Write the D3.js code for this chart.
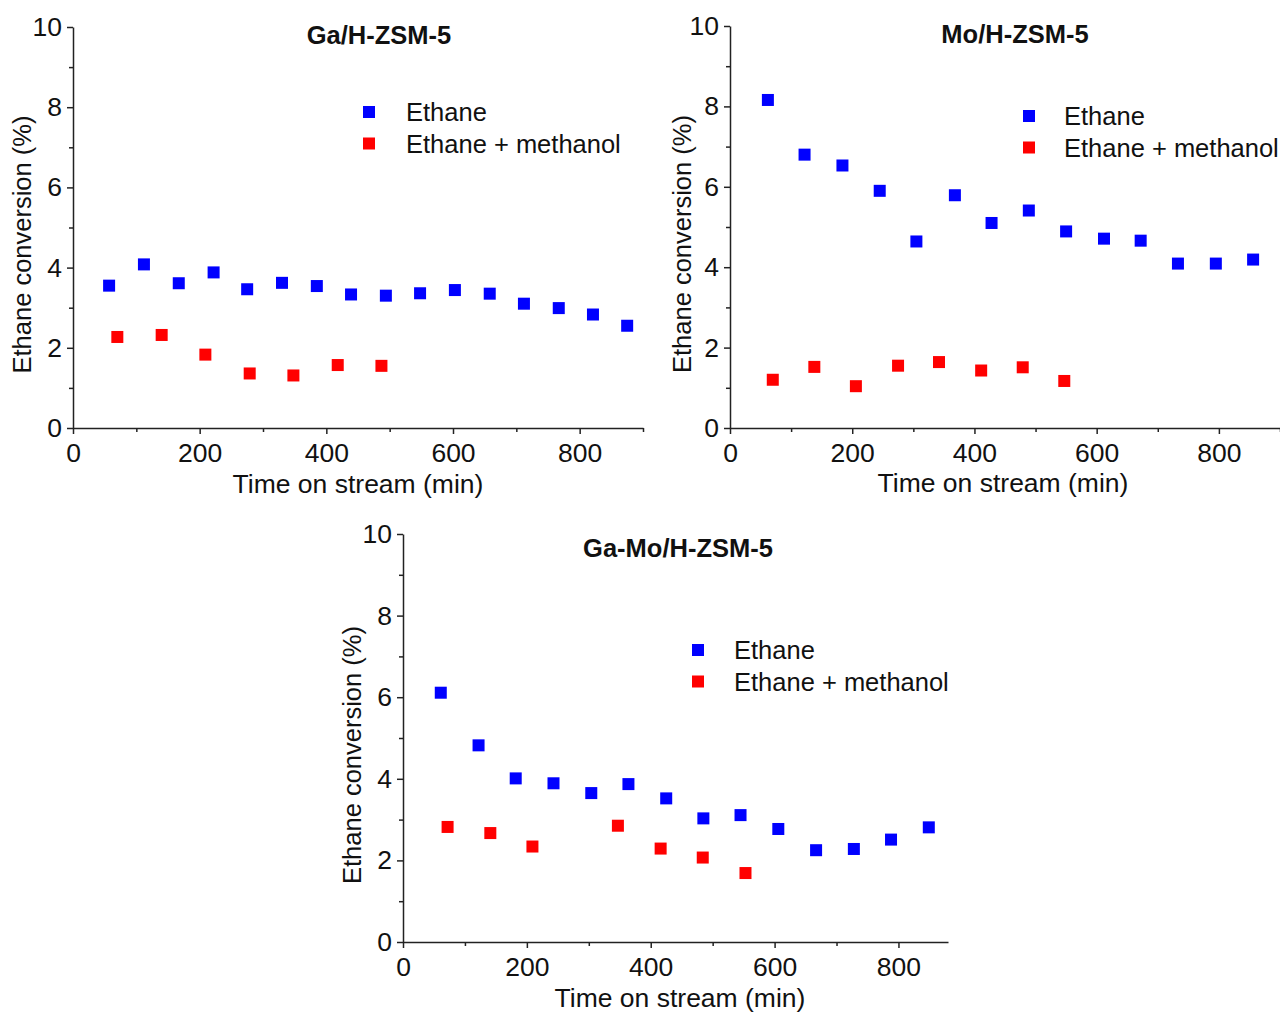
<!DOCTYPE html>
<html><head><meta charset="utf-8">
<script src="https://cdn.jsdelivr.net/npm/d3@7"></script>
<style>
html,body{margin:0;padding:0;background:#fff;}
svg{display:block;font-family:Arial,"Liberation Sans",sans-serif;}
</style></head>
<body><svg id="c" width="1280" height="1012"></svg>
<script>
// ---- data ----
const panelTitles = ["Ga/H-ZSM-5", "Mo/H-ZSM-5", "Ga-Mo/H-ZSM-5"];
const seriesNames = ["Ethane", "Ethane + methanol"];
const xTickValues = [0, 200, 400, 600, 800];
const yTickValues = [0, 2, 4, 6, 8, 10];
const xTitle = "Time on stream (min)";
const yTitle = "Ethane conversion (%)";

const gaEthaneTime = [57,112,167,222,275,330,385,439,494,548,603,658,712,767,821,875];
const gaEthaneConv = [3.55,4.08,3.61,3.88,3.46,3.62,3.54,3.33,3.30,3.36,3.44,3.35,3.10,2.99,2.83,2.55];
const gaMethTime = [70,140,209,279,348,418,487];
const gaMethConv = [2.27,2.32,1.83,1.36,1.31,1.57,1.55];

const moEthaneTime = [62,122,184,245,305,368,428,489,550,612,672,733,795,856];
const moEthaneConv = [8.16,6.80,6.53,5.90,4.64,5.79,5.10,5.41,4.89,4.71,4.66,4.09,4.09,4.19];
const moMethTime = [70,138,206,275,342,411,479,547];
const moMethConv = [1.20,1.52,1.04,1.55,1.64,1.43,1.51,1.17];

const gamoEthaneTime = [61,122,182,243,304,364,425,485,545,606,667,728,788,849];
const gamoEthaneConv = [6.11,4.82,4.01,3.89,3.65,3.87,3.52,3.03,3.11,2.77,2.25,2.28,2.51,2.81];
const gamoMethTime = [72,141,209,347,416,484,553];
const gamoMethConv = [2.82,2.67,2.34,2.85,2.29,2.07,1.69];

const colors = ["#0000ff", "#ff0000"];

// ---- layout ----
const svg = d3.select("#c");
const panels = [
  {title: panelTitles[0], x0:73, x1:643, xmax:900, y0:428, y1:27,
   series:[[gaEthaneTime,gaEthaneConv],[gaMethTime,gaMethConv]],
   titleX:379, titleY:44, legX:369, legY:112, legDx:37, yTitleX:22, xTitleX:358, xTitleY:493},
  {title: panelTitles[1], x0:730, x1:1280, xmax:900, y0:428, y1:26,
   series:[[moEthaneTime,moEthaneConv],[moMethTime,moMethConv]],
   titleX:1015, titleY:43, legX:1029, legY:116, legDx:35, yTitleX:682, xTitleX:1003, xTitleY:492},
  {title: panelTitles[2], x0:403, x1:948, xmax:880, y0:942, y1:534,
   series:[[gamoEthaneTime,gamoEthaneConv],[gamoMethTime,gamoMethConv]],
   titleX:678, titleY:557, legX:698, legY:650, legDx:36, yTitleX:352, xTitleX:680, xTitleY:1007}
];

const ms = 12;
const font = "Arial, 'Liberation Sans', sans-serif";
panels.forEach(p => {
  const x = d3.scaleLinear().domain([0, p.xmax]).range([p.x0, p.x1]);
  const y = d3.scaleLinear().domain([0, 10]).range([p.y0, p.y1]);
  const g = svg.append("g");

  // minor ticks
  const xMinor = d3.range(100, p.xmax + 1, 200);
  const yMinor = d3.range(1, 10, 2);
  g.append("g").attr("transform", `translate(0,${p.y0})`)
    .call(d3.axisBottom(x).tickValues(xMinor).tickSize(4).tickFormat(""))
    .call(s => s.select(".domain").remove())
    .selectAll("line").attr("stroke", "#222").attr("stroke-width", 1.5);
  g.append("g").attr("transform", `translate(${p.x0},0)`)
    .call(d3.axisLeft(y).tickValues(yMinor).tickSize(4).tickFormat(""))
    .call(s => s.select(".domain").remove())
    .selectAll("line").attr("stroke", "#222").attr("stroke-width", 1.5);

  // major axes
  const xa = g.append("g").attr("transform", `translate(0,${p.y0})`)
    .call(d3.axisBottom(x).tickValues(xTickValues).tickSize(6).tickSizeOuter(0).tickPadding(9));
  const ya = g.append("g").attr("transform", `translate(${p.x0},0)`)
    .call(d3.axisLeft(y).tickValues(yTickValues).tickSize(6).tickSizeOuter(0).tickPadding(5));
  [xa, ya].forEach(a => {
    a.select(".domain").attr("stroke", "#222").attr("stroke-width", 1.5);
    a.selectAll("line").attr("stroke", "#222").attr("stroke-width", 1.5);
    a.selectAll("text").attr("font-size", 26.5).attr("fill", "#111")
      .attr("font-family", font);
  });

  // axis titles
  g.append("text").attr("x", p.xTitleX).attr("y", p.xTitleY)
    .attr("text-anchor", "middle").attr("font-size", 26.5).attr("fill", "#111")
    .text(xTitle);
  g.append("text").attr("transform", `translate(${p.yTitleX + 9},${(p.y0 + p.y1) / 2 + 17}) rotate(-90)`)
    .attr("text-anchor", "middle").attr("font-size", 25.5).attr("fill", "#111")
    .text(yTitle);

  // panel title
  g.append("text").attr("x", p.titleX).attr("y", p.titleY).attr("text-anchor", "middle")
    .attr("font-size", 25.5).attr("font-weight", "bold").attr("fill", "#111").text(p.title);

  // points
  p.series.forEach((s, i) => {
    const pts = s[0].map((t, k) => [t, s[1][k]]);
    g.append("g").selectAll("rect").data(pts).join("rect")
      .attr("x", d => x(d[0]) - ms / 2).attr("y", d => y(d[1]) - ms / 2)
      .attr("width", ms).attr("height", ms).attr("fill", colors[i]);
  });

  // legend
  seriesNames.forEach((n, i) => {
    const ly = p.legY + i * 31.5;
    g.append("rect").attr("x", p.legX - ms / 2).attr("y", ly - ms / 2)
      .attr("width", ms).attr("height", ms).attr("fill", colors[i]);
    g.append("text").attr("x", p.legX + p.legDx).attr("y", ly + 9)
      .attr("font-size", 25.5).attr("fill", "#111").text(n);
  });
});
</script></body></html>
